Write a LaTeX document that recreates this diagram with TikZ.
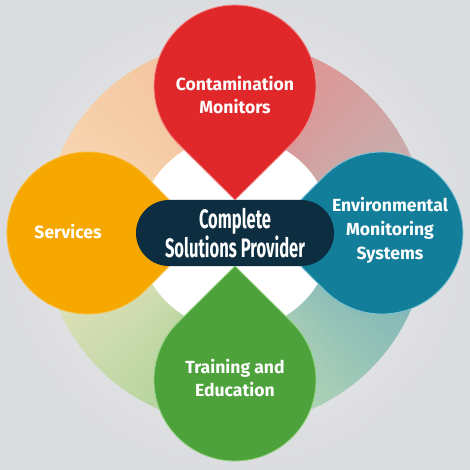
\documentclass[tikz,border=0pt]{standalone}
\usepackage{fontspec}
\setmainfont{Fira Sans}
\newfontfamily\condfont[FakeStretch=0.62]{Fira Sans}
\definecolor{PetalRed}{HTML}{E0282B}
\definecolor{PetalRedEdge}{HTML}{F08C8A}
\definecolor{PetalOrange}{HTML}{F6A800}
\definecolor{PetalOrangeEdge}{HTML}{F9BC3C}
\definecolor{PetalTeal}{HTML}{137E9A}
\definecolor{PetalTealEdge}{HTML}{7CC3D4}
\definecolor{PetalGreen}{HTML}{4DA23C}
\definecolor{PetalGreenEdge}{HTML}{93D27E}
\definecolor{CentreNavy}{HTML}{0C2E40}
\definecolor{BackLight}{HTML}{F1F1F2}
\definecolor{BackDark}{HTML}{DBDCDF}
\definecolor{RingTealGray}{HTML}{BDB9BA}
\definecolor{RingRedPink}{HTML}{E98A88}
\definecolor{RingRedPeach}{HTML}{F2BE98}
\definecolor{RingOrangeLight}{HTML}{F8DDB9}
\definecolor{RingOrangeCream}{HTML}{EFE6C4}
\definecolor{RingGreen}{HTML}{A3CE93}
\definecolor{RingGreenPale}{HTML}{C2DFB4}
\definecolor{RingTeal}{HTML}{6FAAB9}
\usetikzlibrary{calc}

\begin{document}
\begin{tikzpicture}[x=0.025cm, y=0.025cm,
    petal label/.style={text=white, align=center, inner sep=0pt,
        font=\bfseries\fontsize{12.5}{17}\selectfont},
    centre box/.style={fill=CentreNavy, text=white, align=center,
        rounded corners=0.825cm, minimum width=4.95cm, minimum height=1.65cm,
        inner sep=0pt, font=\condfont\bfseries\fontsize{19}{17.7}\selectfont}]

    \coordinate (O) at (0,0);
    \useasboundingbox (-235,-237) rectangle (235,233);

    \shade [inner color=BackLight, outer color=BackDark] (-235,-237) rectangle (235,233);

    % colour ring, one quadrant after the other
    \foreach \qstart/\cA/\cB in {0/RingTealGray/RingRedPink,
                                 90/RingRedPeach/RingOrangeLight,
                                 180/RingOrangeCream/RingGreen,
                                 270/RingGreenPale/RingTeal}
        \foreach \i in {0,...,44} {
            \pgfmathtruncatemacro\mix{round(100*\i/44)}
            \fill [\cB!\mix!\cA] (O) -- (\qstart+2*\i:192)
                arc [start angle=\qstart+2*\i, end angle=\qstart+2*\i+2.4, radius=192] -- cycle;
        }
    \fill [white] (O) circle [radius=97];

    % petals
    \foreach \ang/\col/\edge in {90/PetalRed/PetalRedEdge, 180/PetalOrange/PetalOrangeEdge,
                                 0/PetalTeal/PetalTealEdge, 270/PetalGreen/PetalGreenEdge}
        \draw [fill=\col, draw=\edge, line width=0.6pt] (\ang:33)
            -- ($(\ang:147)+(\ang+135:81)$)
            arc [start angle=\ang+135, end angle=\ang-135, radius=81] -- cycle;

    \node [centre box] (centre) at (O) {Complete\\Solutions Provider};

    \node [petal label] (contamination) at (0,138) {Contamination\\Monitors};
    \node [petal label] (services) at (-167,1) {Services};
    \node [petal label] (environmental) at (155,3) {Environmental\\Monitoring\\Systems};
    \node [petal label] (training) at (0,-145) {Training and\\Education};

\end{tikzpicture}
\end{document}
